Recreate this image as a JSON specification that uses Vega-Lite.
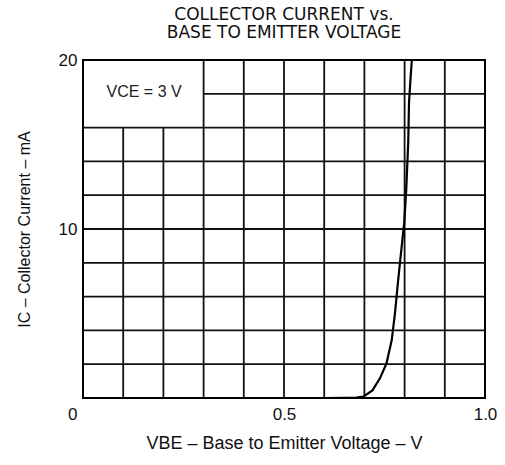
{
  "$schema": "https://vega.github.io/schema/vega-lite/v6.json",
  "autosize": {"type": "none"},
  "padding": {"left": 83, "top": 60, "right": 20, "bottom": 67},
  "width": 402,
  "height": 338,
  "background": "white",
  "config": {
    "view": {"stroke": "black", "strokeWidth": 2},
    "font": "Liberation Sans"
  },
  "title": {
    "text": ["COLLECTOR CURRENT vs.", "BASE TO EMITTER VOLTAGE"],
    "font": "DejaVu Sans",
    "fontSize": 17,
    "fontWeight": "normal",
    "color": "#111",
    "lineHeight": 18.5,
    "offset": 9,
    "anchor": "middle"
  },
  "datasets": {
    "grid": [
      {"x": 0.1, "x2": 0.1, "y": 0, "y2": 16},
      {"x": 0.2, "x2": 0.2, "y": 0, "y2": 16},
      {"x": 0.3, "x2": 0.3, "y": 0, "y2": 20},
      {"x": 0.4, "x2": 0.4, "y": 0, "y2": 20},
      {"x": 0.5, "x2": 0.5, "y": 0, "y2": 20},
      {"x": 0.6, "x2": 0.6, "y": 0, "y2": 20},
      {"x": 0.7, "x2": 0.7, "y": 0, "y2": 20},
      {"x": 0.8, "x2": 0.8, "y": 0, "y2": 20},
      {"x": 0.9, "x2": 0.9, "y": 0, "y2": 20},
      {"x": 0, "x2": 1, "y": 2, "y2": 2},
      {"x": 0, "x2": 1, "y": 4, "y2": 4},
      {"x": 0, "x2": 1, "y": 6, "y2": 6},
      {"x": 0, "x2": 1, "y": 8, "y2": 8},
      {"x": 0, "x2": 1, "y": 10, "y2": 10},
      {"x": 0, "x2": 1, "y": 12, "y2": 12},
      {"x": 0, "x2": 1, "y": 14, "y2": 14},
      {"x": 0, "x2": 1, "y": 16, "y2": 16},
      {"x": 0.3, "x2": 1, "y": 18, "y2": 18}
    ],
    "curve": [
      {"v": 0.0, "i": 0.0},
      {"v": 0.6, "i": 0.0},
      {"v": 0.65, "i": 0.01},
      {"v": 0.68, "i": 0.03},
      {"v": 0.697, "i": 0.08},
      {"v": 0.72, "i": 0.45},
      {"v": 0.739, "i": 1.18},
      {"v": 0.755, "i": 2.05},
      {"v": 0.768, "i": 3.43},
      {"v": 0.776, "i": 5.0},
      {"v": 0.784, "i": 6.98},
      {"v": 0.791, "i": 8.58},
      {"v": 0.799, "i": 10.36},
      {"v": 0.804, "i": 12.3},
      {"v": 0.809, "i": 15.1},
      {"v": 0.811, "i": 17.5},
      {"v": 0.815, "i": 19.0},
      {"v": 0.818, "i": 20.0}
    ],
    "label": [
      {"x": 0.152, "y": 18.1, "t": "VCE = 3 V"}
    ]
  },
  "layer": [
    {
      "data": {"name": "grid"},
      "mark": {"type": "rule", "color": "#111", "strokeWidth": 1.8},
      "encoding": {
        "x": {
          "field": "x", "type": "quantitative",
          "scale": {"domain": [0, 1], "nice": false},
          "axis": {
            "values": [0, 0.5, 1],
            "format": ".1f",
            "labelExpr": "datum.value == 0 ? '0' : datum.label",
            "labelAlign": {"condition": {"test": "datum.value == 0", "value": "right"}, "value": "center"},
            "labelOffset": {"condition": {"test": "datum.value == 0", "value": -6}, "value": 0},
            "labelFlush": false,
            "labelFontSize": 17,
            "labelColor": "#111",
            "labelPadding": 8,
            "ticks": false,
            "domain": false,
            "grid": false,
            "title": "VBE – Base to Emitter Voltage – V",
            "titleFontSize": 18,
            "titleFontWeight": "normal",
            "titleColor": "#111",
            "titlePadding": 12
          }
        },
        "x2": {"field": "x2"},
        "y": {
          "field": "y", "type": "quantitative",
          "scale": {"domain": [0, 20], "nice": false},
          "axis": {
            "values": [10, 20],
            "labelFontSize": 17,
            "labelColor": "#111",
            "labelPadding": 6,
            "ticks": false,
            "domain": false,
            "grid": false,
            "title": "IC – Collector Current – mA",
            "titleFontSize": 16,
            "titleFontWeight": "normal",
            "titleColor": "#111",
            "titlePadding": 26
          }
        },
        "y2": {"field": "y2"}
      }
    },
    {
      "data": {"name": "curve"},
      "mark": {"type": "line", "color": "#000", "strokeWidth": 2.2},
      "encoding": {
        "x": {"field": "v", "type": "quantitative"},
        "y": {"field": "i", "type": "quantitative"}
      }
    },
    {
      "data": {"name": "label"},
      "mark": {"type": "text", "fontSize": 16, "color": "#222", "font": "Liberation Sans"},
      "encoding": {
        "x": {"field": "x", "type": "quantitative"},
        "y": {"field": "y", "type": "quantitative"},
        "text": {"field": "t"}
      }
    }
  ]
}
